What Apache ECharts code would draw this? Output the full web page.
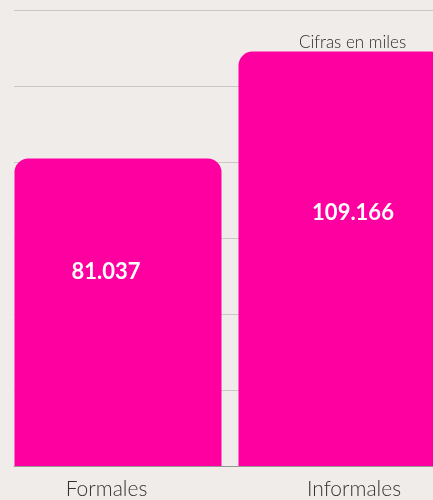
<!DOCTYPE html>
<html>
<head>
<meta charset="utf-8">
<script src="https://cdn.jsdelivr.net/npm/echarts@6/dist/echarts.min.js"></script>
<style>
  html, body { margin: 0; padding: 0; background: #f0ece9; }
  #chart { width: 433px; height: 500px; }
</style>
</head>
<body>
<div id="chart"></div>
<script>
// data (thousands)
const categories = ['Formales', 'Informales'];
const values = [81.037, 109.166];
const valueLabels = ['81.037', '109.166'];
const yMax = 120;
const yStep = 20;

const FONT = 'Lato, "Noto Sans", sans-serif';
const PINK = '#ff00a0';

// labels in the original sit a little off the bar centres
const labelOffsets = [[-12, -40], [11, -46]];

const chart = echarts.init(document.getElementById('chart'));

chart.setOption({
  backgroundColor: '#f0ece9',
  animation: false,
  grid: [
    // gridlines only
    { left: 14, right: 0, top: 10.5, bottom: 34, outerBoundsMode: 'none' },
    // bars (runs past the right edge)
    { left: 6, width: 448, top: 10.5, bottom: 34, outerBoundsMode: 'none' }
  ],
  xAxis: [
    {
      gridIndex: 0,
      type: 'category',
      data: categories,
      axisLine: { lineStyle: { color: '#9a9896', width: 1 } },
      axisTick: { show: false },
      axisLabel: { show: false }
    },
    {
      gridIndex: 1,
      type: 'category',
      data: [
        { value: categories[0], textStyle: { padding: [0, 23, 0, 0] } },
        { value: categories[1], textStyle: { padding: [0, 0, 0, 24] } }
      ],
      axisLine: { show: false },
      axisTick: { show: false },
      axisLabel: {
        color: '#333',
        fontFamily: FONT,
        fontWeight: 300,
        fontSize: 21,
        margin: 13
      }
    }
  ],
  yAxis: [
    {
      gridIndex: 0,
      type: 'value',
      min: 0,
      max: yMax,
      interval: yStep,
      axisLabel: { show: false },
      axisLine: { show: false },
      axisTick: { show: false },
      splitLine: { lineStyle: { color: '#cbc7c3', width: 1 } }
    },
    {
      gridIndex: 1,
      type: 'value',
      min: 0,
      max: yMax,
      interval: yStep,
      show: false,
      splitLine: { show: false }
    }
  ],
  graphic: [{
    type: 'text',
    z: 0,
    left: 299,
    top: 34,
    style: {
      text: 'Cifras en miles',
      fill: '#2a2a2a',
      font: '300 17px ' + FONT
    }
  }],
  series: [{
    type: 'bar',
    xAxisIndex: 1,
    yAxisIndex: 1,
    data: values.map((v, i) => ({ value: v, label: { offset: labelOffsets[i] } })),
    barWidth: 207,
    itemStyle: { color: PINK, borderRadius: [14, 14, 0, 0] },
    label: {
      show: true,
      position: 'inside',
      color: '#fff',
      fontFamily: FONT,
      fontWeight: 'bold',
      fontSize: 22,
      formatter: p => valueLabels[p.dataIndex]
    }
  }]
});
</script>
</body>
</html>
